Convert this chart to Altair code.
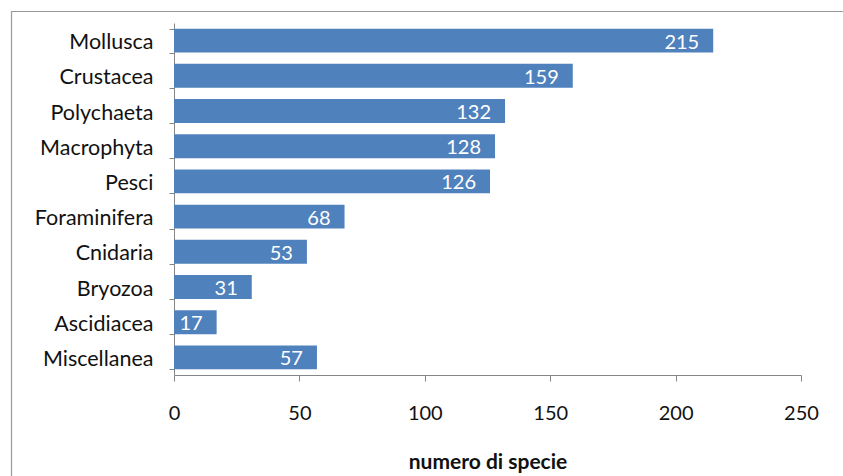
import altair as alt
import pandas as pd

# Species counts per taxonomic group
categories = ["Mollusca", "Crustacea", "Polychaeta", "Macrophyta", "Pesci",
              "Foraminifera", "Cnidaria", "Bryozoa", "Ascidiacea", "Miscellanea"]
counts = [215, 159, 132, 128, 126, 68, 53, 31, 17, 57]
x_ticks = [0, 50, 100, 150, 200, 250]

df = pd.DataFrame({"gruppo": categories, "specie": counts})
one = pd.DataFrame({"k": [0]})

FONT = "Lato"
BAR = "#4F81BD"
AXIS = "#868686"

y_enc = alt.Y(
    "gruppo:N", sort=categories, title=None,
    scale=alt.Scale(paddingInner=0.32, paddingOuter=0.16),
    axis=alt.Axis(tickBand="extent", tickSize=5, labelPadding=16,
                  labelOffset=2,
                  labelFontSize=21.5, labelFont=FONT, labelColor="#111111",
                  domainColor=AXIS, tickColor=AXIS),
)
x_enc = alt.X(
    "specie:Q", title="numero di specie",
    scale=alt.Scale(domain=[0, 250], nice=False),
    axis=alt.Axis(values=x_ticks, grid=False, tickSize=6, labelPadding=22,
                  labelFlush=False,
                  labelFontSize=20, labelFont=FONT, labelColor="#111111",
                  domainColor=AXIS, tickColor=AXIS,
                  titleFont=FONT, titleFontSize=21, titleFontWeight="bold",
                  titleColor="#111111", titlePadding=28),
)

bars = alt.Chart(df).mark_bar(color=BAR).encode(x=x_enc, y=y_enc)

labels = alt.Chart(df).mark_text(
    align="right", baseline="middle", dx=-14, dy=2,
    color="white", font=FONT, fontSize=20,
).encode(x="specie:Q", y=alt.Y("gruppo:N", sort=categories), text="specie:Q")

# Outer chart frame (top and left edges)
frame_top = alt.Chart(one).mark_rule(color="#9a9a9a", strokeWidth=1.2).encode(
    x=alt.value(-163), x2=alt.value(700), y=alt.value(-11.5))
frame_left = alt.Chart(one).mark_rule(color="#9a9a9a", strokeWidth=1.2).encode(
    x=alt.value(-162.5), y=alt.value(-11.5), y2=alt.value(470))

chart = alt.layer(bars, labels, frame_top, frame_left).properties(
    width=627, height=352,
    autosize=alt.AutoSizeParams(type="none"),
    padding={"left": 174, "top": 23, "right": 42, "bottom": 101},
    background="white",
).configure_view(stroke=None)

chart.save("out.html", embed_options={"renderer": "svg", "actions": False})
